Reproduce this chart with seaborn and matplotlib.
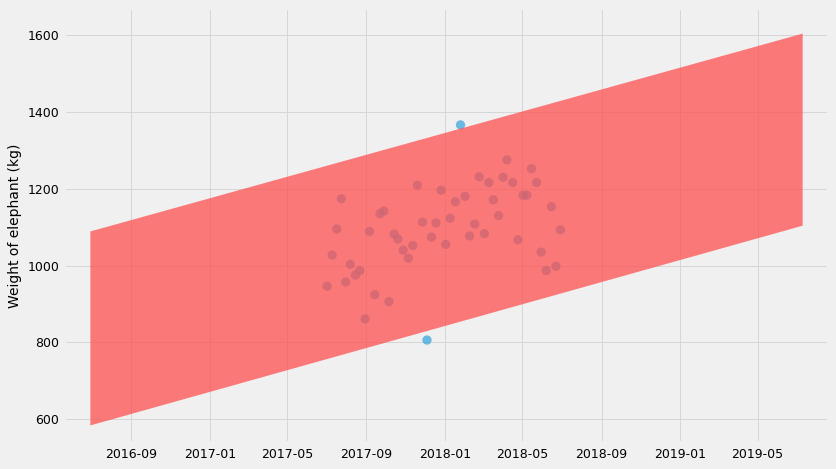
import pandas as pd
import numpy as np
import matplotlib
matplotlib.use("Agg")
import matplotlib.pyplot as plt
import matplotlib.dates as mdates
import seaborn as sns

# ------------------------------------------------------
# Data
# ------------------------------------------------------

dates = ["2017-07-02", "2017-07-10", "2017-07-17", "2017-07-24", "2017-07-31", "2017-08-07",
         "2017-08-15", "2017-08-22", "2017-08-30", "2017-09-06", "2017-09-14", "2017-09-22",
         "2017-09-28", "2017-10-06", "2017-10-14", "2017-10-20", "2017-10-28", "2017-11-05",
         "2017-11-12", "2017-11-19", "2017-11-27", "2017-12-11", "2017-12-18", "2017-12-26",
         "2018-01-02", "2018-01-09", "2018-01-17", "2018-02-01", "2018-02-08", "2018-02-16",
         "2018-02-23", "2018-03-03", "2018-03-10", "2018-03-17", "2018-03-25", "2018-04-01",
         "2018-04-07", "2018-04-16", "2018-04-24", "2018-05-02", "2018-05-08", "2018-05-15",
         "2018-05-23", "2018-05-30", "2018-06-07", "2018-06-15", "2018-06-22", "2018-06-29"]
weights = [946, 1027, 1095, 1174, 957, 1003, 975, 987, 861, 1089, 924, 1135,
           1142, 906, 1082, 1069, 1040, 1019, 1052, 1209, 1113, 1074, 1111, 1196,
           1055, 1123, 1166, 1180, 1077, 1108, 1231, 1083, 1216, 1171, 1130, 1230,
           1275, 1216, 1067, 1183, 1183, 1252, 1216, 1035, 987, 1153, 998, 1093]

outlier_dates = ["2018-01-25", "2017-12-04"]
outlier_weights = [1366, 806]

band_dates = ["2016-06-29", "2019-07-09"]
band_lower = [585, 1105]
band_upper = [1090, 1605]

# ------------------------------------------------------
# Plot
# ------------------------------------------------------

plt.style.use("fivethirtyeight")
df = pd.DataFrame({"ds": pd.to_datetime(dates + outlier_dates), "y": weights + outlier_weights})
band_x = pd.to_datetime(band_dates)

fig, ax = plt.subplots(figsize=(8.37, 4.69), dpi=100)
fig.patch.set_facecolor("#f0f0f0")
ax.set_facecolor("#f0f0f0")

ax.fill_between(band_x, band_lower, band_upper, color="#ff5050", alpha=0.75, zorder=3, linewidth=0)
sns.scatterplot(data=df, x="ds", y="y", ax=ax, color="#30a2da", s=45, alpha=0.7,
                edgecolor="none", zorder=2)

ax.set_xlim(pd.Timestamp("2016-05-20"), pd.Timestamp("2019-08-20"))
ax.set_ylim(537, 1671)
ax.set_yticks([600, 800, 1000, 1200, 1400, 1600])
ax.xaxis.set_major_locator(mdates.MonthLocator(bymonth=[1, 5, 9]))
ax.xaxis.set_major_formatter(mdates.DateFormatter("%Y-%m"))
ax.tick_params(labelsize=9)
ax.set_xlabel("")
ax.set_ylabel("Weight of elephant (kg)", fontsize=10)
ax.grid(True, color="#d6d6d6", linewidth=0.7)

plt.tight_layout(pad=0.4)
plt.savefig("out.png", facecolor=fig.get_facecolor())
